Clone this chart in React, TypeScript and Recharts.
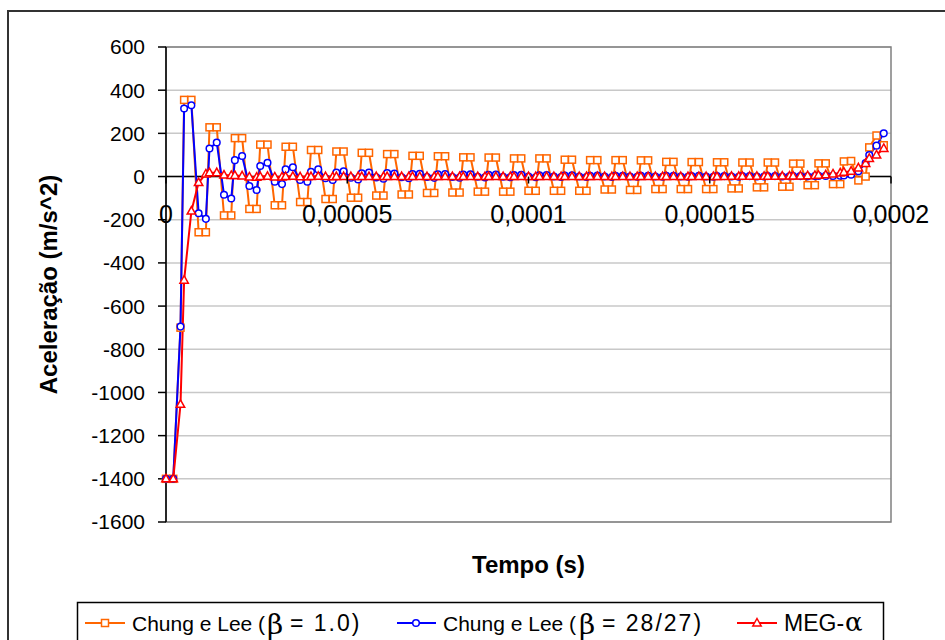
import {
  CartesianGrid,
  Line,
  LineChart,
  ReferenceArea,
  ReferenceDot,
  ReferenceLine,
  XAxis,
  YAxis,
} from "recharts";

// tempo em microssegundos (passo ~1,75 us arredondado)
const timeUs = [
  0, 2, 4, 5, 7, 9, 11, 12, 14, 16,
  18, 19, 21, 23, 25, 26, 28, 30, 32, 33,
  35, 37, 39, 40, 42, 44, 46, 47, 49, 51,
  53, 54, 56, 58, 60, 61, 63, 65, 67, 68,
  70, 72, 74, 75, 77, 79, 81, 82, 84, 86,
  88, 89, 91, 93, 95, 96, 98, 100, 102, 103,
  105, 107, 109, 110, 112, 114, 116, 117, 119, 121,
  123, 124, 126, 128, 130, 131, 133, 135, 137, 138,
  140, 142, 144, 145, 147, 149, 151, 152, 154, 156,
  158, 159, 161, 163, 165, 166, 168, 170, 172, 173,
  175, 177, 179, 180, 182, 184, 186, 187, 189, 191,
  193, 194, 196, 198,
];

const chungLee10 = [
  -1400, -1400, -700, 355, 355, -258, -258, 228, 228, -180,
  -180, 178, 178, -150, -150, 148, 148, -133, -133, 138,
  138, -118, -118, 123, 123, -104, -104, 116, 116, -98,
  -98, 110, 110, -88, -88, 104, 104, -83, -83, 96,
  96, -76, -76, 94, 94, -74, -74, 89, 89, -70,
  -70, 88, 88, -70, -70, 84, 84, -66, -66, 84,
  84, -66, -66, 78, 78, -66, -66, 76, 76, -60,
  -60, 76, 76, -62, -62, 75, 75, -58, -58, 68,
  68, -58, -58, 67, 67, -58, -58, 66, 66, -55,
  -55, 65, 65, -50, -50, 65, 65, -47, -47, 60,
  60, -40, -40, 61, 61, -35, -35, 70, 72, -18,
  0, 135, 190, 145,
];

const chungLee2827 = [
  -1400, -1400, -695, 315, 330, -170, -196, 130, 158, -84,
  -102, 76, 95, -44, -62, 49, 64, -24, -35, 33,
  43, -16, -24, 22, 33, -8, -16, 18, 24, -5,
  -14, 15, 19, -4, -10, 16, 14, -3, -8, 12,
  13, -2, -6, 10, 12, -2, -5, 9, 10, -1,
  -4, 8, 9, -1, -3, 7, 8, 0, -3, 6,
  7, 0, -2, 5, 6, 0, -2, 4, 5, 0,
  -2, 4, 4, 0, -1, 3, 4, 0, -1, 3,
  3, 0, -1, 2, 3, 0, -1, 2, 2, 0,
  -1, 2, 2, 0, 0, 2, 2, 0, 1, 2,
  2, 1, 2, 3, 3, 3, 4, 5, 8, 25,
  62, 100, 143, 200,
];

const megAlpha = [
  -1400, -1400, -1055, -480, -160, -28, 12, 18, 18, 7,
  5, 5, 3, -2, -3, 0, 1, -2, -2, 0,
  1, -1, -1, 0, 1, 0, -1, 0, 0, 0,
  0, 0, 0, 0, 0, 0, 0, 0, 0, 0,
  0, 0, 0, 0, 0, 0, 0, 0, 0, 0,
  0, 0, 0, 0, 0, 0, 0, 0, 0, 0,
  0, 0, 0, 0, 0, 0, 0, 0, 0, 0,
  0, 0, 0, 0, 0, 0, 0, 0, 0, 0,
  0, 0, 0, 0, 0, 0, 0, 0, 0, 1,
  1, 1, 1, 1, 1, 1, 1, 2, 2, 2,
  3, 4, 5, 6, 8, 12, 17, 20, 25, 40,
  61, 84, 100, 130,
];

const yTicks = [-1600, -1400, -1200, -1000, -800, -600, -400, -200, 0, 200, 400, 600];
const xTicks = [0, 50, 100, 150, 200];
const xTickLabels = ["0", "0,00005", "0,0001", "0,00015", "0,0002"];

const data = timeUs.map((t, i) => ({
  t,
  cl1: chungLee10[i],
  cl2: chungLee2827[i],
  meg: megAlpha[i],
}));

const ORANGE = "#FF6600";
const BLUE = "#0000FF";
const RED = "#FF0000";
const FONT = "'Liberation Sans', Arial, sans-serif";
const SYMBOL = "'DejaVu Serif', serif";

const squareDot = (p: any) => (
  <rect
    key={`sq-${p.index}`}
    x={p.cx - 3.5}
    y={p.cy - 3.5}
    width={7}
    height={7}
    fill="#fff"
    stroke={ORANGE}
    strokeWidth={1.5}
  />
);

const circleDot = (p: any) => (
  <circle key={`ci-${p.index}`} cx={p.cx} cy={p.cy} r={3.3} fill="#fff" stroke={BLUE} strokeWidth={1.5} />
);

const triangleDot = (p: any) => (
  <path
    key={`tr-${p.index}`}
    d={`M${p.cx},${p.cy - 4.5} L${p.cx + 4.2},${p.cy + 3} L${p.cx - 4.2},${p.cy + 3} Z`}
    fill="#fff"
    stroke={RED}
    strokeWidth={1.5}
  />
);

function XTickMark(props: any) {
  const { cx, cy, label } = props;
  return (
    <g>
      <line x1={cx} y1={cy} x2={cx} y2={cy + 7} stroke="#000" strokeWidth={1.5} />
      <text x={cx} y={cy + 46} textAnchor="middle" fontSize={25} fontFamily={FONT} fill="#000">
        {label}
      </text>
    </g>
  );
}

export default function App() {
  return (
    <div
      style={{
        position: "fixed",
        left: 0,
        top: 0,
        width: 945,
        height: 640,
        overflow: "hidden",
        background: "#fff",
      }}
    >
      <div
        style={{
          position: "absolute",
          left: 7,
          top: 10,
          width: 1000,
          height: 1000,
          borderLeft: "2px solid #333",
          borderTop: "2px solid #333",
        }}
      />
      <div style={{ position: "absolute", left: 0, top: 0 }}>
        <LineChart
          width={945}
          height={640}
          data={data}
          margin={{ top: 47, right: 54, bottom: 58, left: 0 }}
        >
          <CartesianGrid vertical={false} stroke="#c8c8c8" strokeWidth={1.5} />
          <ReferenceArea
            x1={0}
            x2={200}
            y1={-1600}
            y2={600}
            fill="none"
            stroke="#808080"
            strokeWidth={1.5}
          />
          <XAxis
            dataKey="t"
            type="number"
            domain={[0, 200]}
            ticks={xTicks}
            tick={false}
            tickLine={false}
            axisLine={false}
            height={60}
            label={{
              value: "Tempo (s)",
              content: (p: any) => (
                <text
                  x={p.viewBox.x + p.viewBox.width / 2}
                  y={p.viewBox.y + 51}
                  textAnchor="middle"
                  fontSize={24}
                  fontWeight="bold"
                  fontFamily={FONT}
                  fill="#000"
                >
                  Tempo (s)
                </text>
              ),
            }}
          />
          <YAxis
            type="number"
            domain={[-1600, 600]}
            ticks={yTicks}
            interval={0}
            width={166}
            tickSize={8}
            tickMargin={13}
            axisLine={{ stroke: "#000", strokeWidth: 1.5 }}
            tickLine={{ stroke: "#000", strokeWidth: 1.5 }}
            tick={{ fontSize: 21, fill: "#000", fontFamily: FONT }}
            label={{
              value: "Aceleração (m/s^2)",
              content: (p: any) => {
                const cx = 57;
                const cy = p.viewBox.y + p.viewBox.height / 2;
                return (
                  <text
                    x={cx}
                    y={cy}
                    transform={`rotate(-90, ${cx}, ${cy})`}
                    textAnchor="middle"
                    fontSize={24}
                    fontWeight="bold"
                    fontFamily={FONT}
                    fill="#000"
                  >
                    Aceleração (m/s^2)
                  </text>
                );
              },
            }}
          />
          <ReferenceLine y={0} stroke="#000" strokeWidth={1.5} />
          <Line
            dataKey="cl1"
            type="linear"
            stroke={ORANGE}
            strokeWidth={2}
            dot={squareDot}
            activeDot={false}
            isAnimationActive={false}
          />
          <Line
            dataKey="cl2"
            type="linear"
            stroke={BLUE}
            strokeWidth={2}
            dot={circleDot}
            activeDot={false}
            isAnimationActive={false}
          />
          <Line
            dataKey="meg"
            type="linear"
            stroke={RED}
            strokeWidth={2}
            dot={triangleDot}
            activeDot={false}
            isAnimationActive={false}
          />
          {xTicks.map((t, i) => (
            <ReferenceDot
              key={t}
              x={t}
              y={0}
              r={0}
              shape={(p: any) => <XTickMark {...p} label={xTickLabels[i]} />}
            />
          ))}
        </LineChart>
      </div>
      <svg
        width={945}
        height={640}
        style={{ position: "absolute", left: 0, top: 0, pointerEvents: "none" }}
        fontFamily={FONT}
      >
        <rect x={77.5} y={602.5} width={806} height={60} fill="#fff" stroke="#000" strokeWidth={1.5} />

        <line x1={85} y1={623} x2={125} y2={623} stroke={ORANGE} strokeWidth={2} />
        <rect x={101.5} y={619.5} width={7} height={7} fill="#fff" stroke={ORANGE} strokeWidth={1.5} />
        <text x={132} y={631} fontSize={21} fill="#000">Chung e Lee (</text>
        <text x={267} y={634} fontSize={28} fontFamily={SYMBOL} fill="#000">β</text>
        <text x={290} y={631} fontSize={23} fill="#000" letterSpacing={2}>
          {" = 1.0)"}
        </text>

        <line x1={397} y1={623} x2={436} y2={623} stroke={BLUE} strokeWidth={2} />
        <circle cx={416} cy={623} r={3.3} fill="#fff" stroke={BLUE} strokeWidth={1.5} />
        <text x={443} y={631} fontSize={21} fill="#000">Chung e Lee (</text>
        <text x={579} y={634} fontSize={28} fontFamily={SYMBOL} fill="#000">β</text>
        <text x={602} y={631} fontSize={23} fill="#000" letterSpacing={2}>
          {" = 28/27)"}
        </text>

        <line x1={737} y1={623} x2={777} y2={623} stroke={RED} strokeWidth={2} />
        <path d="M757,618.5 L761.2,626 L752.8,626 Z" fill="#fff" stroke={RED} strokeWidth={1.5} />
        <text x={784} y={631} fontSize={23} fill="#000">MEG-</text>
        <text x={845} y={631} fontSize={26} fontFamily={SYMBOL} fill="#000">α</text>
      </svg>
    </div>
  );
}
